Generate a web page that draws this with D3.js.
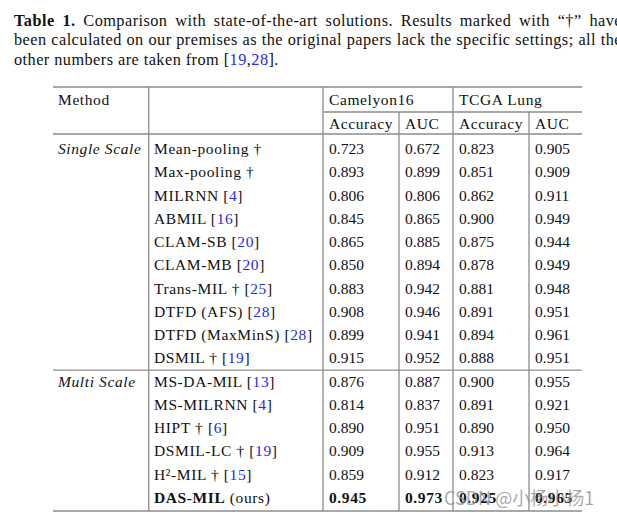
<!DOCTYPE html>
<html><head><meta charset="utf-8">
<script src="https://cdn.jsdelivr.net/npm/d3@7"></script>
<style>body{margin:0;background:#fff;} svg{display:block;}</style>
</head><body>
<script>
// ---- data ----
const methods = ["Mean-pooling","Max-pooling","MILRNN","ABMIL","CLAM-SB","CLAM-MB","Trans-MIL","DTFD (AFS)","DTFD (MaxMinS)","DSMIL","MS-DA-MIL","MS-MILRNN","HIPT","DSMIL-LC","H²-MIL","DAS-MIL"];
const scaleGroups = ["Single Scale","Multi Scale"];
const groupOf = [0,0,0,0,0,0,0,0,0,0,1,1,1,1,1,1];
const dagger = [1,1,0,0,0,0,1,0,0,1,0,0,1,1,1,0];
const refs = ["","","4","16","20","20","25","28","28","19","13","4","6","19","15",""];
const ours = [0,0,0,0,0,0,0,0,0,0,0,0,0,0,0,1];
const camAcc = [0.723,0.893,0.806,0.845,0.865,0.850,0.883,0.908,0.899,0.915,0.876,0.814,0.890,0.909,0.859,0.945];
const camAuc = [0.672,0.899,0.806,0.865,0.885,0.894,0.942,0.946,0.941,0.952,0.887,0.837,0.951,0.955,0.912,0.973];
const tcgaAcc = [0.823,0.851,0.862,0.900,0.875,0.878,0.881,0.891,0.894,0.888,0.900,0.891,0.890,0.913,0.823,0.925];
const tcgaAuc = [0.905,0.909,0.911,0.949,0.944,0.949,0.948,0.951,0.961,0.951,0.955,0.921,0.950,0.964,0.917,0.965];
const datasets = ["Camelyon16","TCGA Lung"];
const metrics = ["Accuracy","AUC"];
const captionLines = [
  [{t:"Table 1.",b:1},{t:" Comparison with state-of-the-art solutions. Results marked with “†” have"}],
  [{t:"been calculated on our premises as the original papers lack the specific settings; all the"}],
  [{t:"other numbers are taken from ["},{t:"19",c:1},{t:","},{t:"28",c:1},{t:"]."}]
];

// ---- layout ----
const W=617,H=518;
const FONT="'Liberation Serif','Times New Roman',serif";
const FS=15.5, LS=0.6;
const BLUE="#2a2ae6";
const LINE="#8c8c8c";
const svg=d3.select("body").append("svg").attr("width",W).attr("height",H)
  .style("font-family",FONT);
svg.append("rect").attr("width",W).attr("height",H).attr("fill","#fff");

// caption (justified lines 1-2)
const cap=svg.append("g").attr("font-size",16.3).attr("letter-spacing",0.45);
const capY=d3.scaleLinear().domain([0,2]).range([26,64.5]);
const capX0=14, capX1=622;
captionLines.forEach((segs,i)=>{
  const t=cap.append("text").attr("x",capX0).attr("y",capY(i)).attr("fill","#111");
  segs.forEach(s=>{
    t.append("tspan").text(s.t).attr("font-weight",s.b?"bold":null).attr("fill",s.c?BLUE:null);
  });
  if(i<captionLines.length-1){
    const len=t.node().getComputedTextLength();
    const nSp=segs.map(s=>s.t).join("").split(" ").length-1;
    t.attr("word-spacing",(capX1-capX0-len)/nSp);
  }
});

// table scales
const rowIdx=d3.range(methods.length);
const y=d3.scaleLinear().domain([0,methods.length-1]).range([154,503]);
const colKeys=["group","method","camAcc","camAuc","tcgaAcc","tcgaAuc"];
const colText=d3.scaleOrdinal().domain(colKeys).range([58,154,329,405,459,535]);
const colLine=d3.scaleOrdinal().domain(["method","camAcc","camAuc","tcgaAcc","tcgaAuc"]).range([148.7,323,399,453,529]);
const tableL=53, tableR=582;
const yTop=87, yMid=112, yHead=134, yBottom=511;
const yGroup=(y(9)+y(10))/2-5;

const lines=svg.append("g").attr("stroke",LINE).attr("stroke-width",1.3).attr("fill","none");
lines.append("line").attr("x1",tableL).attr("x2",tableR).attr("y1",yTop).attr("y2",yTop);
lines.append("line").attr("x1",colLine("camAcc")).attr("x2",tableR).attr("y1",yMid).attr("y2",yMid);
lines.append("line").attr("x1",tableL).attr("x2",tableR).attr("y1",yHead).attr("y2",yHead);
lines.append("line").attr("x1",tableL).attr("x2",tableR).attr("y1",yGroup).attr("y2",yGroup);
lines.append("line").attr("x1",tableL).attr("x2",tableR).attr("y1",yBottom).attr("y2",yBottom);
["method","camAcc","tcgaAcc"].forEach(k=>lines.append("line").attr("x1",colLine(k)).attr("x2",colLine(k)).attr("y1",yTop).attr("y2",yBottom));
["camAuc","tcgaAuc"].forEach(k=>lines.append("line").attr("x1",colLine(k)).attr("x2",colLine(k)).attr("y1",yMid).attr("y2",yBottom));

const tg=svg.append("g").attr("font-size",FS).attr("fill","#111");
// header
tg.append("text").attr("x",colText("group")).attr("y",105).attr("letter-spacing",LS).text("Method");
tg.append("text").attr("x",colText("camAcc")).attr("y",105).attr("letter-spacing",LS).text(datasets[0]);
tg.append("text").attr("x",colText("tcgaAcc")).attr("y",105).attr("letter-spacing",LS).text(datasets[1]);
[["camAcc",0],["camAuc",1],["tcgaAcc",0],["tcgaAuc",1]].forEach(([k,m])=>
  tg.append("text").attr("x",colText(k)).attr("y",128.5).attr("letter-spacing",LS).text(metrics[m]));

// group labels
scaleGroups.forEach((g,gi)=>{
  const first=groupOf.indexOf(gi);
  tg.append("text").attr("x",colText("group")).attr("y",y(first)).attr("font-style","italic")
    .attr("letter-spacing",LS).text(g);
});

// method names
rowIdx.forEach(i=>{
  const t=tg.append("text").attr("x",colText("method")).attr("y",y(i)).attr("letter-spacing",LS);
  t.append("tspan").text(methods[i]).attr("font-weight",ours[i]?"bold":null);
  if(ours[i]) t.append("tspan").text(" (ours)");
  if(dagger[i]) t.append("tspan").text(" †");
  if(refs[i]){
    t.append("tspan").text(" [");
    t.append("tspan").text(refs[i]).attr("fill",BLUE);
    t.append("tspan").text("]");
  }
});

// values
const fmt=d3.format(".3f");
const valueCols=[["camAcc",camAcc],["camAuc",camAuc],["tcgaAcc",tcgaAcc],["tcgaAuc",tcgaAuc]];
valueCols.forEach(([k,arr])=>{
  tg.selectAll(null).data(rowIdx).join("text")
    .attr("x",colText(k)).attr("y",i=>y(i))
    .attr("font-weight",i=>ours[i]?"bold":null)
    .attr("letter-spacing",i=>ours[i]?0.6:0)
    .text(i=>fmt(arr[i]));
});

// watermark
svg.append("text").attr("x",444).attr("y",505).attr("font-size",18)
  .attr("font-family","'Noto Sans CJK SC','Noto Sans',sans-serif")
  .attr("fill","rgba(140,140,140,0.75)")
  .text("CSDN @小杨小杨1");
</script>
</body></html>
